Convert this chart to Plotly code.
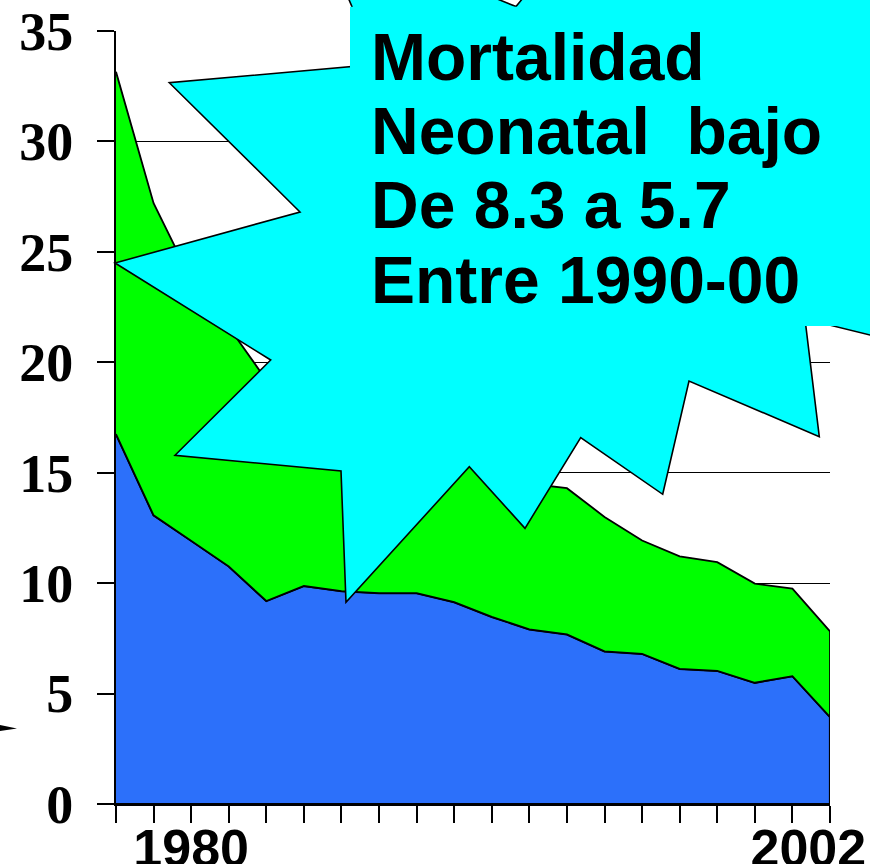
import plotly.graph_objects as go

# ---- data ----
positions = list(range(20))
tick_labels = ["", "", "1980", "", "", "", "", "", "", "", "", "", "", "", "", "", "", "", "", "2002\u00a0\u00a0\u00a0"]
lower_series = [16.75, 13.07, 11.93, 10.76, 9.19, 9.87, 9.64, 9.55, 9.55, 9.14,
                8.47, 7.91, 7.68, 6.91, 6.80, 6.12, 6.03, 5.49, 5.79, 3.94]
upper_total = [33.15, 27.2, 23.75, 21.6, 19.2, 18.2, 17.3, 16.6, 16.0, 15.7,
               15.1, 14.5, 14.3, 13.0, 11.93, 11.21, 10.95, 9.98, 9.75, 7.82]
y_ticks = [0, 5, 10, 15, 20, 25, 30, 35]
callout_lines = ["Mortalidad", "Neonatal\u00a0\u00a0bajo", "De 8.3 a 5.7", "Entre 1990-00"]

W, H = 870, 864
ML, MR, MT, MB = 116, 40, 31, 60
PW, PH = W - ML - MR, H - MT - MB


def px(x):
    return (x - ML) / PW


def py(y):
    return (H - MB - y) / PH


def path(points):
    s = "M " + " L ".join(f"{px(a):.5f},{py(b):.5f}" for a, b in points) + " Z"
    return s


fig = go.Figure()

fig.add_trace(go.Scatter(
    x=positions + [positions[-1], positions[0]],
    y=lower_series + [0, 0],
    fill="toself", fillcolor="#2C70FA", mode="lines",
    line=dict(color="black", width=2.2), hoverinfo="skip", showlegend=False))
fig.add_trace(go.Scatter(
    x=positions + positions[::-1],
    y=upper_total + lower_series[::-1],
    fill="toself", fillcolor="#00FF00", mode="lines",
    line=dict(color="black", width=1.8), hoverinfo="skip", showlegend=False))

# starburst callout (decoration, pixel coordinates)
star = [(115, 263), (270.7, 360), (175, 455.3), (341, 471), (346, 602.3),
        (469.3, 466.7), (525, 528.3), (580.7, 437.7), (662.7, 494.3),
        (689, 381), (819.3, 436.7), (805, 319), (1000, 367), (1000, -80),
        (587, -80), (516, 6.5), (318, -73), (376.6, 64.4), (169.3, 82.7),
        (300, 212)]
shapes = [
    dict(type="path", xref="paper", yref="paper", path=path(star),
         fillcolor="#00FFFF", line=dict(color="black", width=1.6), layer="above"),
    dict(type="rect", xref="paper", yref="paper", x0=px(350), x1=px(900),
         y0=py(326), y1=py(6.7), fillcolor="#00FFFF", line=dict(width=0), layer="above"),
    dict(type="path", xref="paper", yref="paper",
         path=path([(0, 725), (17, 728.5), (0, 731)]),
         fillcolor="black", line=dict(width=0), layer="above"),
]

centers = [57, 131, 205, 280]
annotations = []
for txt, cy in zip(callout_lines, centers):
    annotations.append(dict(
        text="<b>" + txt + "</b>", xref="paper", yref="paper", x=px(369), y=py(cy),
        xanchor="left", yanchor="middle", showarrow=False,
        font=dict(family="Liberation Sans", size=66, color="black"),
    ))

fig.update_layout(
    width=W, height=H,
    margin=dict(l=ML, r=MR, t=MT, b=MB, autoexpand=False),
    paper_bgcolor="white", plot_bgcolor="white",
    shapes=shapes, annotations=annotations,
    showlegend=False,
    xaxis=dict(
        range=[0, 19], tickmode="array", tickvals=positions, ticktext=tick_labels,
        ticks="outside", ticklen=17, tickwidth=2, tickcolor="black",
        showline=True, linecolor="black", linewidth=2, showgrid=False, zeroline=False,
        tickangle=0, automargin=False, ticklabeloverflow="allow",
        ticklabelstandoff=-19,
        tickfont=dict(family="Liberation Sans", size=52, color="black", weight="bold"),
    ),
    yaxis=dict(
        range=[0, 35], tickmode="array", tickvals=y_ticks,
        ticktext=[str(v) for v in y_ticks],
        ticks="outside", ticklen=17, tickwidth=1.5, tickcolor="black",
        showline=True, linecolor="black", linewidth=2, automargin=False,
        showgrid=True, gridcolor="black", gridwidth=1, zeroline=False,
        ticklabelstandoff=13,
        tickfont=dict(family="Liberation Serif", size=54, color="black", weight="bold"),
    ),
)

fig.write_html("out.html", config={"displayModeBar": False},
               post_script="document.body.style.margin='0';document.body.style.padding='0';")
